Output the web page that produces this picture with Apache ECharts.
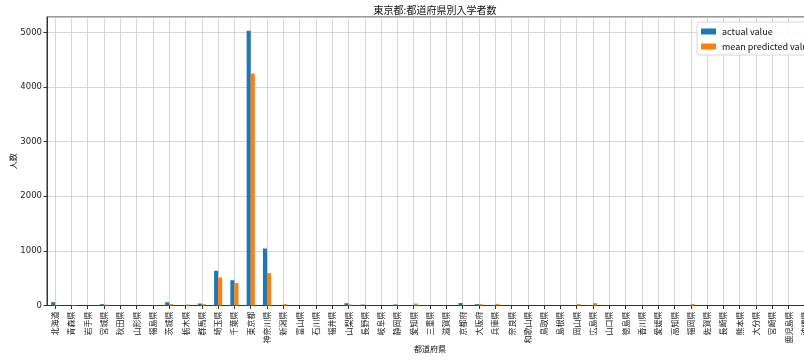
<!DOCTYPE html>
<html>
<head>
<meta charset="utf-8">
<script src="https://cdn.jsdelivr.net/npm/echarts@6/dist/echarts.min.js"></script>
<style>
  html, body { margin: 0; padding: 0; background: #fff; }
  #chart { width: 804px; height: 360px; }
</style>
</head>
<body>
<div id="chart"></div>
<script>
// Prefectures in standard order
const prefectures = [
  '北海道','青森県','岩手県','宮城県','秋田県','山形県','福島県','茨城県','栃木県','群馬県',
  '埼玉県','千葉県','東京都','神奈川県','新潟県','富山県','石川県','福井県','山梨県','長野県',
  '岐阜県','静岡県','愛知県','三重県','滋賀県','京都府','大阪府','兵庫県','奈良県','和歌山県',
  '鳥取県','島根県','岡山県','広島県','山口県','徳島県','香川県','愛媛県','高知県','福岡県',
  '佐賀県','長崎県','熊本県','大分県','宮崎県','鹿児島県','沖縄県'
];

// Enrolled students by home prefecture
const actualValues = [
  61, 0, 0, 25, 3, 0, 3, 60, 5, 37,
  635, 463, 5030, 1043, 3, 0, 3, 0, 42, 18,
  0, 20, 5, 3, 3, 45, 25, 8, 0, 0,
  0, 0, 0, 5, 3, 0, 0, 0, 0, 5,
  0, 0, 0, 3, 0, 0, 0
];

// Mean of model predictions by home prefecture
const predictedValues = [
  5, 10, 2, 15, 0, 0, 3, 25, 18, 24,
  511, 413, 4245, 593, 25, 0, 0, 0, 18, 2,
  0, 2, 35, 0, 0, 5, 25, 30, 0, 0,
  0, 0, 25, 43, 0, 0, 3, 0, 0, 25,
  0, 0, 0, 5, 0, 0, 0
];

const yTicks = [0, 1000, 2000, 3000, 4000, 5000];

const font = '"Noto Sans CJK JP", "DejaVu Sans", sans-serif';
const chart = echarts.init(document.getElementById('chart'), null, { renderer: 'canvas' });

const yMax = Math.max(...actualValues, ...predictedValues) * 1.05;

chart.setOption({
  animation: false,
  backgroundColor: '#ffffff',
  textStyle: { fontFamily: font },
  title: {
    text: '東京都:都道府県別入学者数',
    left: 430,
    textAlign: 'center',
    top: 0,
    textStyle: { fontSize: 10, fontWeight: 'normal', color: '#111', fontFamily: font }
  },
  legend: {
    orient: 'vertical',
    left: 697,
    top: 22,
    itemWidth: 15,
    itemHeight: 6,
    itemGap: 6,
    padding: [5, 20, 4, 4],
    backgroundColor: 'rgba(255,255,255,0.9)',
    borderColor: '#d6d6d6',
    borderWidth: 1,
    borderRadius: 3,
    textStyle: { fontSize: 9, color: '#111', fontFamily: font, padding: [0, 0, 0, 1] },
    icon: 'rect',
    data: ['actual value', 'mean predicted value']
  },
  grid: {
    left: 47,
    top: 17,
    width: 766,
    height: 288.5,
    containLabel: false,
    outerBoundsMode: 'none',
    show: true,
    borderColor: '#333',
    borderWidth: 1,
    backgroundColor: 'transparent'
  },
  xAxis: {
    type: 'category',
    data: prefectures,
    name: '都道府県',
    nameLocation: 'middle',
    nameGap: 39,
    nameMoveOverlap: false,
    nameTextStyle: { fontSize: 8, color: '#111', fontFamily: font },
    axisLine: { show: true, lineStyle: { color: '#333', width: 1 } },
    axisTick: { show: true, alignWithLabel: true, length: 3.5, lineStyle: { color: '#333' } },
    axisLabel: { rotate: 90, interval: 0, fontSize: 8, color: '#222', margin: 6, fontFamily: font },
    splitLine: { show: true, alignWithLabel: true, interval: 0, lineStyle: { color: '#cccccc', width: 0.8 } }
  },
  yAxis: {
    type: 'value',
    min: 0,
    max: yMax,
    interval: 1000,
    name: '人数',
    nameLocation: 'middle',
    nameGap: 30,
    nameMoveOverlap: false,
    nameRotate: 90,
    nameTextStyle: { fontSize: 8, color: '#111', fontFamily: font },
    axisLine: { show: true, lineStyle: { color: '#333', width: 1 } },
    axisTick: { show: true, length: 3.5, lineStyle: { color: '#333' } },
    axisLabel: {
      fontSize: 8.5, color: '#222', margin: 5, showMaxLabel: false,
      fontFamily: '"DejaVu Sans", sans-serif',
      formatter: v => (yTicks.includes(v) ? String(v) : '')
    },
    splitLine: { show: true, lineStyle: { color: '#cccccc', width: 0.8 } }
  },
  series: [
    {
      name: 'actual value',
      type: 'bar',
      data: actualValues,
      barWidth: '25%',
      barGap: '0%',
      itemStyle: { color: '#1f77b4' }
    },
    {
      name: 'mean predicted value',
      type: 'bar',
      data: predictedValues,
      barWidth: '25%',
      barGap: '0%',
      itemStyle: { color: '#ff7f0e' }
    }
  ]
});
</script>
</body>
</html>
